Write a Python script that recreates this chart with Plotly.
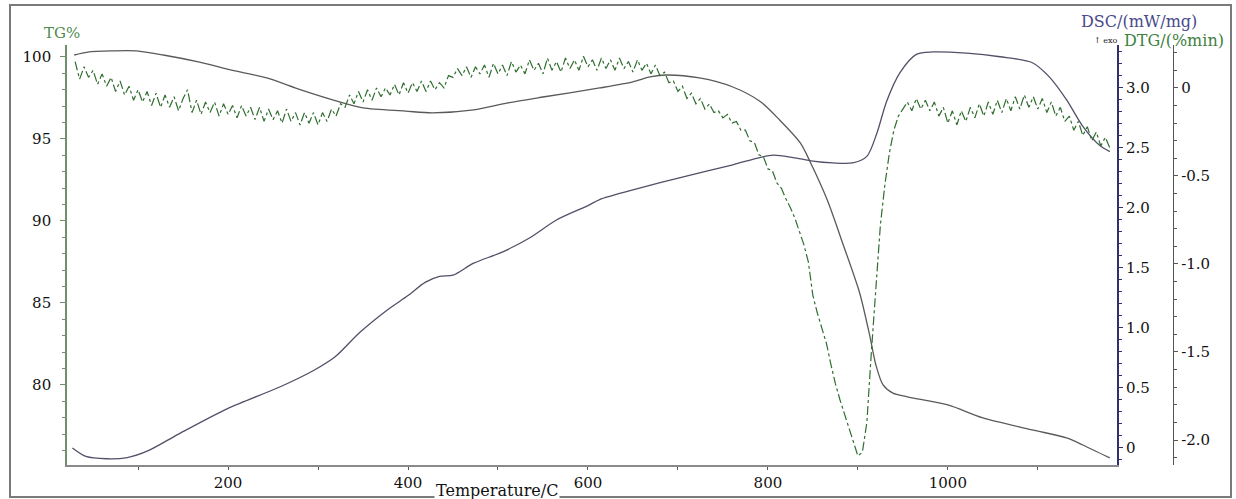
import plotly.graph_objects as go

# ---------------- data ----------------
tg_temp = [29, 44, 71, 98, 128, 167, 204, 243, 281, 320, 350, 397, 427, 473, 511, 550,
           613, 650, 669, 687, 724, 761, 791, 813, 836, 847, 866, 883, 902, 913, 920,
           928, 939, 955, 1000, 1039, 1094, 1132, 1150, 1180]
tg_val = [100.12, 100.30, 100.37, 100.37, 100.12, 99.70, 99.20, 98.72, 97.99, 97.32, 96.89,
          96.70, 96.59, 96.77, 97.20, 97.56, 98.11, 98.48, 98.78, 98.90, 98.72, 98.17,
          97.30, 96.16, 94.76, 93.60, 91.28, 88.66, 85.61, 83.05, 81.22, 80.00, 79.50,
          79.28, 78.78, 77.99, 77.26, 76.77, 76.34, 75.55]

dsc_temp = [27, 42, 65, 88, 112, 146, 200, 258, 296, 319, 346, 377, 400, 419, 435, 450,
            473, 504, 535, 565, 600, 613, 650, 706, 761, 791, 806, 828, 850, 872, 894,
            910, 921, 932, 947, 965, 983, 1021, 1058, 1094, 1113, 1132, 1150, 1169, 1180]
dsc_val = [0.00, -0.07, -0.09, -0.08, -0.02, 0.12, 0.33, 0.51, 0.65, 0.76, 0.96, 1.15,
           1.27, 1.38, 1.43, 1.44, 1.54, 1.63, 1.75, 1.90, 2.02, 2.07, 2.15, 2.26, 2.36,
           2.42, 2.44, 2.42, 2.39, 2.375, 2.375, 2.43, 2.62, 2.89, 3.13, 3.28, 3.30, 3.29,
           3.26, 3.21, 3.09, 2.90, 2.68, 2.52, 2.47]

dtg_temp = [30, 35, 40, 45, 50, 55, 60, 65, 70, 75,
            80, 85, 90, 95, 100, 105, 110, 115, 120, 125,
            130, 135, 140, 145, 150, 155, 160, 165, 170, 175,
            180, 185, 190, 195, 200, 205, 210, 215, 220, 225,
            230, 235, 240, 245, 250, 255, 260, 265, 270, 275,
            280, 285, 290, 295, 300, 305, 310, 315, 320, 325,
            330, 335, 340, 345, 350, 355, 360, 365, 370, 375,
            380, 385, 390, 395, 400, 405, 410, 415, 420, 425,
            430, 435, 440, 445, 450, 455, 460, 465, 470, 475,
            480, 485, 490, 495, 500, 505, 510, 515, 520, 525,
            530, 535, 540, 545, 550, 555, 560, 565, 570, 575,
            580, 585, 590, 595, 600, 605, 610, 615, 620, 625,
            630, 635, 640, 645, 650, 655, 660, 665, 670, 675,
            680, 685, 690, 695, 700, 705, 710, 715, 720, 725,
            730, 735, 740, 745, 750, 755, 760, 765, 770, 775,
            780, 785, 790, 795, 800, 805, 810, 815, 820, 825,
            830, 835, 840, 845, 850, 855, 860, 865, 870, 875,
            880, 885, 890, 895, 900, 905, 910, 915, 920, 925,
            930, 935, 940, 945, 950, 955, 960, 965, 970, 975,
            980, 985, 990, 995, 1000, 1005, 1010, 1015, 1020, 1025,
            1030, 1035, 1040, 1045, 1050, 1055, 1060, 1065, 1070, 1075,
            1080, 1085, 1090, 1095, 1100, 1105, 1110, 1115, 1120, 1125,
            1130, 1135, 1140, 1145, 1150, 1155, 1160, 1165, 1170, 1175,
            1180]
dtg_val = [0.15, 0.05, 0.12, 0.06, 0.10, 0.02, 0.08, 0.01, 0.06, -0.02,
           0.04, -0.04, 0.01, -0.07, -0.01, -0.08, -0.02, -0.10, -0.03, -0.11,
           -0.04, -0.11, -0.05, -0.13, -0.06, -0.01, -0.14, -0.07, -0.15, -0.08,
           -0.14, -0.08, -0.16, -0.09, -0.15, -0.10, -0.17, -0.10, -0.16, -0.11,
           -0.18, -0.11, -0.19, -0.12, -0.18, -0.13, -0.20, -0.12, -0.19, -0.14,
           -0.21, -0.14, -0.20, -0.14, -0.21, -0.14, -0.19, -0.12, -0.16, -0.09,
           -0.11, -0.04, -0.09, -0.02, -0.08, -0.01, -0.07, 0.00, -0.05, 0.00,
           -0.04, 0.02, -0.04, 0.03, -0.03, 0.03, -0.02, 0.04, -0.02, 0.04,
           -0.01, 0.03, 0.00, 0.07, 0.06, 0.11, 0.07, 0.12, 0.06, 0.12,
           0.08, 0.13, 0.06, 0.14, 0.08, 0.13, 0.07, 0.15, 0.09, 0.13,
           0.08, 0.16, 0.10, 0.14, 0.08, 0.17, 0.10, 0.15, 0.09, 0.17,
           0.11, 0.16, 0.10, 0.18, 0.12, 0.16, 0.10, 0.17, 0.11, 0.16,
           0.10, 0.17, 0.11, 0.15, 0.09, 0.16, 0.10, 0.14, 0.08, 0.13,
           0.07, 0.09, 0.03, 0.04, -0.02, 0.01, -0.06, -0.03, -0.09, -0.06,
           -0.12, -0.09, -0.14, -0.13, -0.17, -0.15, -0.20, -0.19, -0.24, -0.24,
           -0.30, -0.31, -0.38, -0.39, -0.46, -0.47, -0.54, -0.57, -0.63, -0.68,
           -0.74, -0.82, -0.89, -0.99, -1.18, -1.28, -1.36, -1.45, -1.57, -1.68,
           -1.77, -1.85, -1.93, -2.02, -2.09, -2.07, -1.90, -1.50, -1.15, -0.78,
           -0.55, -0.37, -0.24, -0.16, -0.12, -0.08, -0.13, -0.06, -0.12, -0.07,
           -0.13, -0.08, -0.16, -0.11, -0.20, -0.13, -0.21, -0.13, -0.19, -0.11,
           -0.17, -0.09, -0.16, -0.08, -0.15, -0.07, -0.14, -0.06, -0.13, -0.05,
           -0.12, -0.04, -0.11, -0.05, -0.12, -0.06, -0.14, -0.08, -0.16, -0.11,
           -0.19, -0.16, -0.24, -0.19, -0.27, -0.22, -0.30, -0.25, -0.33, -0.28,
           -0.34]

x_ticks = [200, 400, 600, 800, 1000]
tg_ticks = [80, 85, 90, 95, 100]
dsc_ticks = [0, 0.5, 1.0, 1.5, 2.0, 2.5, 3.0]
dsc_ticktext = ["0", "0.5", "1.0", "1.5", "2.0", "2.5", "3.0"]
dtg_ticks = [-2.0, -1.5, -1.0, -0.5, 0]
dtg_ticktext = ["-2.0", "-1.5", "-1.0", "-0.5", "0"]

# ---------------- figure ----------------
FONT = "DejaVu Serif"
W, H = 1236, 499
ML, MR, MT, MB = 67, 40, 45, 34
PW = W - ML - MR
PH = H - MT - MB
def px_x(px):
    return (px - ML) / PW
def px_y(py):
    return (H - MB - py) / PH

fig = go.Figure()
fig.add_trace(go.Scatter(x=dsc_temp, y=dsc_val, yaxis="y2", mode="lines",
                         line=dict(color="#505068", width=1.3, shape="spline", smoothing=0.8),
                         name="DSC"))
fig.add_trace(go.Scatter(x=tg_temp, y=tg_val, yaxis="y", mode="lines",
                         line=dict(color="#5a5a5a", width=1.3, shape="spline", smoothing=0.8),
                         name="TG"))
fig.add_trace(go.Scatter(x=dtg_temp, y=dtg_val, yaxis="y3", mode="lines",
                         line=dict(color="#2f6e2f", width=1.2, dash="dashdot"),
                         name="DTG"))

tickfont = dict(family=FONT, size=15, color="#111")
fig.update_layout(
    width=W, height=H,
    margin=dict(l=ML, r=MR, t=MT, b=MB),
    paper_bgcolor="white", plot_bgcolor="white",
    showlegend=False,
    xaxis=dict(domain=[0, px_x(1117)], range=[21, 1188], tickvals=x_ticks,
               showline=True, linecolor="#8a8a8a", linewidth=2, ticks="outside",
               ticklen=3, tickcolor="#555", showgrid=False, zeroline=False,
               tickfont=tickfont, automargin=False,
               minor=dict(dtick=100, tick0=0, ticks="outside", ticklen=3, tickcolor="#555")),
    yaxis=dict(range=[75.12, 100.73], tickvals=tg_ticks, showline=True,
               linecolor="#6f8f6f", linewidth=1.6, ticks="outside", ticklen=5,
               tickcolor="#6f8f6f", showgrid=False, zeroline=False, tickfont=tickfont,
               automargin=False, ticklabelstandoff=6,
               minor=dict(dtick=1, tick0=0, ticks="outside", ticklen=3, tickcolor="#6f8f6f")),
    yaxis2=dict(overlaying="y", side="right", anchor="x", range=[-0.142, 3.358],
                tickvals=dsc_ticks, ticktext=dsc_ticktext, showline=True,
                linecolor="#30306e", linewidth=1.8, ticks="outside", ticklen=4,
                tickcolor="#30306e", showgrid=False, zeroline=False, tickfont=tickfont,
                automargin=False,
                minor=dict(dtick=0.1, tick0=0, ticks="outside", ticklen=3, tickcolor="#30306e")),
    yaxis3=dict(overlaying="y", side="right", anchor="free", position=px_x(1173),
                range=[-2.142, 0.244], tickvals=dtg_ticks, ticktext=dtg_ticktext,
                showline=True, linecolor="#555555", linewidth=1.3, ticks="outside",
                ticklen=4, tickcolor="#555", showgrid=False, zeroline=False,
                tickfont=tickfont, automargin=False,
                minor=dict(dtick=0.1, tick0=0, ticks="outside", ticklen=3, tickcolor="#555")),
    shapes=[dict(type="rect", xref="paper", yref="paper",
                 x0=px_x(10), x1=px_x(1231), y0=px_y(497), y1=px_y(5),
                 line=dict(color="#7a7a7a", width=2), layer="below")],
    annotations=[
        dict(text="TG%", xref="paper", yref="paper", x=px_x(62), y=px_y(33),
             xanchor="center", yanchor="middle", showarrow=False,
             font=dict(family=FONT, size=15, color="#4f8a4f")),
        dict(text="DSC/(mW/mg)", xref="paper", yref="paper", x=px_x(1199), y=px_y(22),
             xanchor="right", yanchor="middle", showarrow=False,
             font=dict(family=FONT, size=16, color="#4a4a8c")),
        dict(text="↑ exo", xref="paper", yref="paper", x=px_x(1119), y=px_y(40),
             xanchor="right", yanchor="middle", showarrow=False,
             font=dict(family=FONT, size=8, color="#222")),
        dict(text="DTG/(%min)", xref="paper", yref="paper", x=px_x(1122), y=px_y(40),
             xanchor="left", yanchor="middle", showarrow=False,
             font=dict(family=FONT, size=16, color="#3f7f3f")),
        dict(text="Temperature/C", xref="paper", yref="paper", x=px_x(497), y=px_y(490),
             xanchor="center", yanchor="middle", showarrow=False, bgcolor="white",
             font=dict(family=FONT, size=16, color="#111")),
    ],
)

fig.write_html("out.html")
